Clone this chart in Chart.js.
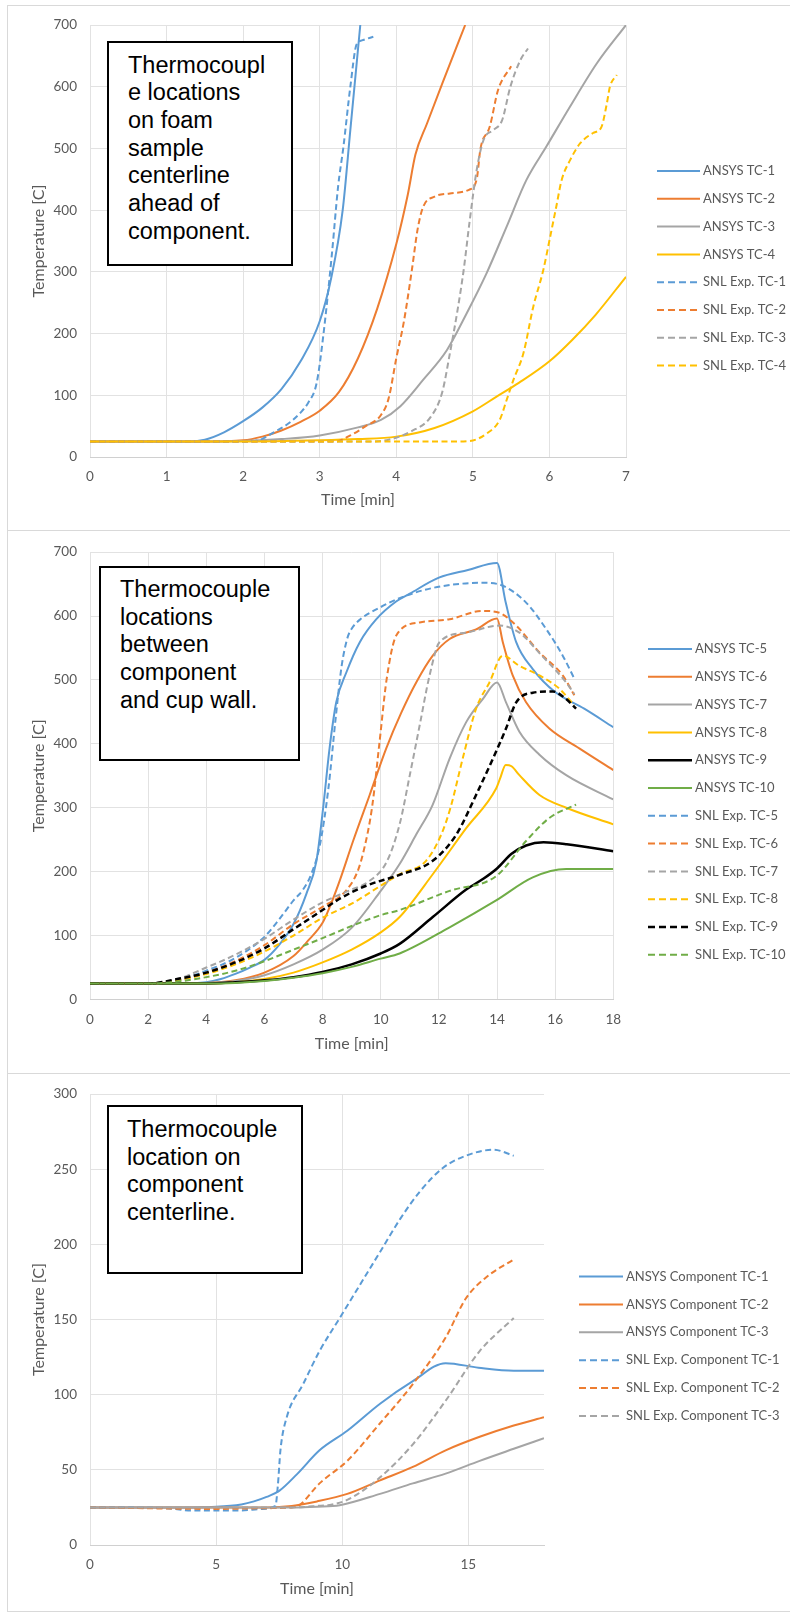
<!DOCTYPE html>
<html>
<head>
<meta charset="utf-8">
<title>Thermocouple temperatures</title>
<script src="https://cdn.jsdelivr.net/npm/chart.js@4.4.1/dist/chart.umd.min.js"></script>
<style>
  html, body { margin: 0; padding: 0; background: #fff; }
  body { width: 790px; height: 1615px; position: relative; overflow: hidden; }
  .panel { position: absolute; left: 7px; width: 800px; border: 1.5px solid #d9d9d9; box-sizing: border-box; }
  canvas { position: absolute; left: 0; }
  .note {
    position: absolute; border: 2px solid #000; background: #fff; box-sizing: border-box;
    font-family: 'Liberation Sans', Arial, sans-serif; font-size: 23.5px; line-height: 27.7px; color: #000;
  }
</style>
</head>
<body>
<div class="panel" style="top:5px;height:526px"></div>
<div class="panel" style="top:530px;height:544px"></div>
<div class="panel" style="top:1073px;height:539px"></div>

<canvas id="chart1" width="790" height="531" style="top:0px"></canvas>
<canvas id="chart2" width="790" height="542" style="top:531px"></canvas>
<canvas id="chart3" width="790" height="542" style="top:1073px"></canvas>

<div class="note" style="left:107px;top:40.6px;width:185.5px;height:225px;padding:9px 0 0 19px">Thermocoupl<br>e locations<br>on foam<br>sample<br>centerline<br>ahead of<br>component.</div>
<div class="note" style="left:99px;top:566px;width:201px;height:195px;padding:8px 0 0 19px">Thermocouple<br>locations<br>between<br>component<br>and cup wall.</div>
<div class="note" style="left:106.5px;top:1105px;width:196px;height:169px;padding:9px 0 0 18.5px">Thermocouple<br>location on<br>component<br>centerline.</div>

<script>
// ---- data: [time in min, temperature in C] ----

// chart 1: foam sample centerline
const ansysTC1 = [[0,25],[1,25],[1.3,25],[1.5,28],[1.75,40],[2,58],[2.25,80],[2.5,110],[2.75,155],[3,220],[3.15,290],[3.3,400],[3.4,530],[3.53,700]];
const ansysTC2 = [[0,25],[1.5,25],[2,27],[2.25,33],[2.5,43],[2.75,57],[3,75],[3.25,105],[3.5,160],[3.75,240],[4,345],[4.15,425],[4.25,490],[4.4,540],[4.6,605],[4.9,700]];
const ansysTC3 = [[0,25],[1.5,25],[2,26],[2.5,29],[3,35],[3.5,48],[3.8,60],[4.05,82],[4.35,125],[4.66,173],[4.92,233],[5.18,298],[5.44,373],[5.7,449],[5.96,503],[6.27,568],[6.62,638],[7,700]];
const ansysTC4 = [[0,25],[2,25],[3,27],[3.5,29],[4,33],[4.5,47],[5,74],[5.3,97],[5.6,120],[6,155],[6.3,190],[6.6,230],[7,292]];
const snlTC1 = [[0,25],[2,25],[2.2,27],[2.4,40],[2.6,55],[2.75,72],[2.85,88],[2.96,120],[3.05,200],[3.16,330],[3.24,438],[3.31,503],[3.4,600],[3.48,668],[3.55,675],[3.7,681]];
const snlTC2 = [[0,25],[3.2,25],[3.4,35],[3.6,50],[3.8,68],[3.9,95],[4,160],[4.1,220],[4.2,300],[4.28,370],[4.35,405],[4.5,422],[4.7,427],[4.95,433],[5.05,450],[5.1,500],[5.22,535],[5.33,595],[5.5,633]];
const snlTC3 = [[0,25],[3.6,25],[3.9,28],[4.2,42],[4.45,65],[4.6,105],[4.7,168],[4.8,238],[4.88,303],[4.96,384],[5.05,465],[5.14,514],[5.27,530],[5.38,545],[5.49,600],[5.62,643],[5.72,662]];
const snlTC4 = [[0,25],[4.7,25],[4.96,26],[5.18,38],[5.35,60],[5.44,92],[5.53,125],[5.66,168],[5.79,244],[5.92,303],[6.01,357],[6.09,406],[6.16,449],[6.27,481],[6.4,508],[6.57,525],[6.68,535],[6.75,573],[6.79,600],[6.88,619]];

// chart 2: between component and cup wall
const ansysTC5 = [[0,25],[3,25],[4,27],[4.5,32],[5,40],[5.5,50],[6,62],[6.5,85],[7,118],[7.44,165],[7.79,217],[8.02,300],[8.24,393],[8.47,465],[8.82,512],[9.28,559],[9.85,595],[10.54,623],[11,635],[12,660],[13,672],[14,683],[14.3,621],[14.66,559],[15.23,517],[16,481],[17,455],[18,426]];
const ansysTC6 = [[0,25],[4,26],[5,30],[6,42],[7,68],[7.5,92],[8,120],[8.24,144],[8.59,186],[9.05,248],[9.62,320],[10.19,393],[10.7,448],[11.22,496],[11.79,538],[12.37,564],[13.28,579],[14,596],[14.2,559],[14.54,507],[15,465],[15.8,424],[16.83,393],[18,359]];
const ansysTC7 = [[0,25],[4,26],[5,29],[6,38],[7,55],[8,78],[9,112],[10,170],[10.65,212],[11.22,258],[11.79,305],[12.37,377],[12.94,434],[13.51,470],[14,496],[14.31,465],[14.77,419],[15.46,383],[16.38,351],[18,313]];
const ansysTC8 = [[0,25],[4,25],[5,27],[6,32],[7,42],[8,58],[9,78],[10,105],[10.65,129],[11.79,196],[12.94,268],[13.97,330],[14.1,345],[14.3,367],[14.5,365],[14.77,351],[15.46,320],[16.38,300],[18,274]];
const ansysTC9 = [[0,25],[4,25],[5,27],[6,30],[7,35],[8,43],[9,55],[10,72],[10.65,87],[11.79,129],[12.94,172],[13.5,188],[14,205],[14.5,228],[15,241],[15.6,246],[16.4,243],[18,232]];
const ansysTC10 = [[0,25],[4,25],[5,26],[6,29],[7,34],[8,41],[9,51],[10,64],[10.65,72],[12.37,113],[13.97,155],[15.23,191],[16.38,204],[18,204]];
const snlTC5 = [[0,25],[2,25],[3,30],[4,45],[5,65],[6,98],[6.5,125],[7,155],[7.33,172],[7.6,195],[7.9,240],[8.2,330],[8.45,440],[8.65,520],[8.85,565],[9,580],[9.3,595],[9.96,613],[10.65,628],[11.8,644],[13.5,652],[14.1,649],[15,621],[15.7,579],[16.26,538],[16.66,502]];
const snlTC6 = [[0,25],[2,25],[3,30],[4,42],[5,60],[6,85],[7,118],[8,145],[8.8,170],[9.2,200],[9.4,230],[9.7,300],[9.96,403],[10.2,500],[10.54,570],[11.34,590],[12.37,595],[13.5,608],[14.08,605],[14.66,585],[15.46,543],[16.26,507],[16.66,476]];
const snlTC7 = [[0,25],[2,25],[3,32],[4,50],[5,70],[6,95],[7,125],[8,152],[9,172],[9.6,185],[10.2,215],[10.65,274],[11,351],[11.34,429],[11.68,507],[12.02,559],[12.94,574],[14.08,585],[14.77,574],[15.5,540],[16.38,496],[16.66,478]];
const snlTC8 = [[0,25],[2,25],[3,30],[4,40],[5,55],[6,75],[7,100],[8,128],[9,150],[10,178],[10.65,196],[11.56,217],[12.1,260],[12.4,300],[12.82,377],[13.28,455],[13.74,496],[14.2,538],[14.77,522],[15.46,507],[16.15,486],[16.66,460]];
const snlTC9 = [[0,25],[2,25],[3,32],[4,42],[5,58],[6,80],[7,110],[8,140],[8.6,158],[9.5,178],[10.65,195],[11.79,217],[12.6,258],[13.28,320],[13.86,377],[14.31,424],[14.66,465],[15.23,480],[15.92,482],[16.38,470],[16.72,455]];
const snlTC10 = [[0,25],[2,25],[3,28],[4,35],[5,45],[6,60],[7,78],[8,96],[9,115],[10,132],[10.65,140],[12.37,170],[13.97,193],[15,248],[15.8,284],[16.72,305]];

// chart 3: component centerline
const ansysComp1 = [[0,25],[3,25],[5,25.5],[6,27],[6.5,29],[7,32],[7.5,36],[8.2,47],[9.1,63],[10.2,76],[11.5,94],[12.8,109],[14.1,121],[15.4,118],[16.8,116],[18,116]];
const ansysComp2 = [[0,25],[7,25],[8,26],[9,29],[10.2,34],[11.5,43],[12.8,52],[14.1,63],[15.45,72],[16.8,79.5],[18,85]];
const ansysComp3 = [[0,25],[8,25],[9,25.5],[9.9,26.5],[11.5,34],[12.8,41],[14.1,47.5],[15.45,56],[16.8,64],[18,71]];
const snlComp1 = [[0,25],[3,24.5],[4,23],[5,23],[6,23],[6.8,24],[7.35,26],[7.45,40],[7.55,63],[7.8,85],[8.45,107],[9.1,129],[9.9,151],[10.7,173],[11.5,195],[12.3,217],[13.07,235],[14,251],[14.9,259],[16,263],[16.8,259]];
const snlComp2 = [[0,25],[5,24],[7,24.5],[8,25],[8.3,26.5],[9.1,41],[10.2,56],[11.5,81],[12.8,107],[14.1,138],[14.9,164],[15.7,178],[16.8,190]];
const snlComp3 = [[0,25],[8,25],[9,26],[9.6,27],[10.2,30],[11.5,45],[12.8,67],[14.1,96],[15.45,129],[16.8,151]];

// ---- styling ----
const BLUE = '#5b9bd5';
const ORANGE = '#ed7d31';
const GRAY = '#a5a5a5';
const GOLD = '#ffc000';
const BLACK = '#000000';
const GREEN = '#70ad47';
const TEXT_GRAY = '#595959';
const GRID = '#e2e2e2';
const AXIS = '#d0d0d0';

function series(label, pts, color, dashed, width) {
    return {
        label: label,
        data: pts.map(p => ({ x: p[0], y: p[1] })),
        borderColor: color,
        backgroundColor: color,
        borderWidth: width || 2,
        borderDash: dashed ? [6, 3.5] : [],
        pointRadius: 0,
        fill: false,
        cubicInterpolationMode: 'monotone'
    };
}

// legend drawn beside the plot, one line sample per dataset
const legendLines = {
    id: 'legendLines',
    afterDraw(chart, args, opts) {
        const ctx = chart.ctx;
        ctx.save();
        chart.data.datasets.forEach((ds, i) => {
            const y = opts.y + i * opts.step;
            ctx.beginPath();
            ctx.strokeStyle = ds.borderColor;
            ctx.lineWidth = ds.borderWidth;
            ctx.setLineDash(ds.borderDash.length ? [7, 4] : []);
            ctx.moveTo(opts.x, y);
            ctx.lineTo(opts.x + opts.len, y);
            ctx.stroke();
            ctx.setLineDash([]);
            ctx.fillStyle = TEXT_GRAY;
            ctx.font = '13px Lato';
            ctx.textBaseline = 'middle';
            ctx.fillText(ds.label, opts.x + opts.len + 3, y);
        });
        ctx.restore();
    }
};

function makeChart(id, datasets, cfg) {
    datasets.forEach((ds, i) => { ds.order = -i; });
    const tickFont = { family: 'Lato', size: 13.5 };
    const titleFont = { family: 'Lato', size: 16 };
    return new Chart(document.getElementById(id), {
        type: 'line',
        data: { datasets },
        options: {
            responsive: false,
            animation: false,
            events: [],
            layout: { padding: { left: 0, top: cfg.top, right: cfg.right, bottom: 0 } },
            plugins: {
                legend: { display: false },
                tooltip: { enabled: false },
                legendLines: cfg.legend
            },
            scales: {
                x: {
                    type: 'linear',
                    min: 0,
                    max: cfg.xMax,
                    ticks: { stepSize: cfg.xStep, includeBounds: false, padding: 12, color: TEXT_GRAY, font: tickFont },
                    grid: { color: GRID, drawTicks: false },
                    border: { color: AXIS },
                    title: { display: true, text: 'Time [min]', color: TEXT_GRAY, font: titleFont, padding: { top: 0, bottom: cfg.xTitlePad } },
                    afterFit: s => { s.height = cfg.xHeight; }
                },
                y: {
                    type: 'linear',
                    min: 0,
                    max: cfg.yMax,
                    ticks: { stepSize: cfg.yStep, padding: 13, color: TEXT_GRAY, font: tickFont },
                    grid: { color: GRID, drawTicks: false },
                    border: { display: false },
                    title: { display: true, text: 'Temperature [C]', color: TEXT_GRAY, font: titleFont, padding: { top: 29.4, bottom: 0 } },
                    afterFit: s => { s.width = 90; }
                }
            }
        },
        plugins: [legendLines]
    });
}

makeChart('chart1', [
    series('ANSYS TC-1', ansysTC1, BLUE, false),
    series('ANSYS TC-2', ansysTC2, ORANGE, false),
    series('ANSYS TC-3', ansysTC3, GRAY, false),
    series('ANSYS TC-4', ansysTC4, GOLD, false),
    series('SNL Exp. TC-1', snlTC1, BLUE, true),
    series('SNL Exp. TC-2', snlTC2, ORANGE, true),
    series('SNL Exp. TC-3', snlTC3, GRAY, true),
    series('SNL Exp. TC-4', snlTC4, GOLD, true)
], { top: 25, right: 164, xHeight: 74, xTitlePad: 21.4, xMax: 7, xStep: 1, yMax: 700, yStep: 100,
     legend: { x: 657, y: 171, step: 27.8, len: 43 } });

makeChart('chart2', [
    series('ANSYS TC-5', ansysTC5, BLUE, false),
    series('ANSYS TC-6', ansysTC6, ORANGE, false),
    series('ANSYS TC-7', ansysTC7, GRAY, false),
    series('ANSYS TC-8', ansysTC8, GOLD, false),
    series('ANSYS TC-9', ansysTC9, BLACK, false, 2.5),
    series('ANSYS TC-10', ansysTC10, GREEN, false),
    series('SNL Exp. TC-5', snlTC5, BLUE, true),
    series('SNL Exp. TC-6', snlTC6, ORANGE, true),
    series('SNL Exp. TC-7', snlTC7, GRAY, true),
    series('SNL Exp. TC-8', snlTC8, GOLD, true),
    series('SNL Exp. TC-9', snlTC9, BLACK, true, 2.5),
    series('SNL Exp. TC-10', snlTC10, GREEN, true)
], { top: 17.3, right: 176.7, xHeight: 73.5, xTitlePad: 19.8, xMax: 18, xStep: 2, yMax: 700, yStep: 100,
     legend: { x: 648, y: 118, step: 27.8, len: 44 } });

makeChart('chart3', [
    series('ANSYS Component TC-1', ansysComp1, BLUE, false),
    series('ANSYS Component TC-2', ansysComp2, ORANGE, false),
    series('ANSYS Component TC-3', ansysComp3, GRAY, false),
    series('SNL Exp. Component TC-1', snlComp1, BLUE, true),
    series('SNL Exp. Component TC-2', snlComp2, ORANGE, true),
    series('SNL Exp. Component TC-3', snlComp3, GRAY, true)
], { top: 19, right: 246, xHeight: 70, xTitlePad: 16.4, xMax: 18, xStep: 5, yMax: 300, yStep: 50,
     legend: { x: 579, y: 203.5, step: 27.9, len: 44 } });
</script>
</body>
</html>
